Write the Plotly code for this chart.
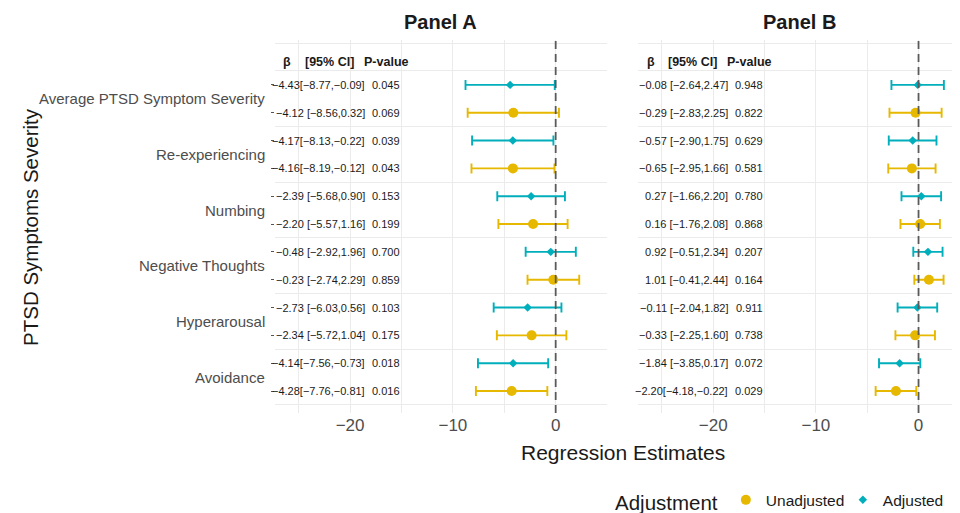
import plotly.graph_objects as go

# ---------------- data ----------------
categories = ["Average PTSD Symptom Severity", "Re-experiencing", "Numbing",
              "Negative Thoughts", "Hyperarousal", "Avoidance"]

# Panel A
A_adj_beta = [-4.43, -4.17, -2.39, -0.48, -2.73, -4.14]
A_adj_lo = [-8.77, -8.13, -5.68, -2.92, -6.03, -7.56]
A_adj_hi = [-0.09, -0.22, 0.90, 1.96, 0.56, -0.73]
A_adj_p = [0.045, 0.039, 0.153, 0.700, 0.103, 0.018]

A_unadj_beta = [-4.12, -4.16, -2.20, -0.23, -2.34, -4.28]
A_unadj_lo = [-8.56, -8.19, -5.57, -2.74, -5.72, -7.76]
A_unadj_hi = [0.32, -0.12, 1.16, 2.29, 1.04, -0.81]
A_unadj_p = [0.069, 0.043, 0.199, 0.859, 0.175, 0.016]

# Panel B
B_adj_beta = [-0.08, -0.57, 0.27, 0.92, -0.11, -1.84]
B_adj_lo = [-2.64, -2.90, -1.66, -0.51, -2.04, -3.85]
B_adj_hi = [2.47, 1.75, 2.20, 2.34, 1.82, 0.17]
B_adj_p = [0.948, 0.629, 0.780, 0.207, 0.911, 0.072]

B_unadj_beta = [-0.29, -0.65, 0.16, 1.01, -0.33, -2.20]
B_unadj_lo = [-2.83, -2.95, -1.76, -0.41, -2.25, -4.18]
B_unadj_hi = [2.25, 1.66, 2.08, 2.44, 1.60, -0.22]
B_unadj_p = [0.822, 0.581, 0.868, 0.164, 0.738, 0.029]

panel_titles = ["Panel A", "Panel B"]
x_ticks = [-20, -10, 0]
x_ticktext = ["\u221220", "\u221210", "0"]
x_minor = [-25, -15, -5, 5]
header_labels = ["\u03b2", "[95% CI]", "P-value"]

# ---------------- styling ----------------
FONT = "Liberation Sans, Arial, Helvetica, sans-serif"
COL = {"Unadjusted": "#E7B800", "Adjusted": "#00AFBB"}
SYM = {"Unadjusted": "circle", "Adjusted": "diamond"}
SIZE = {"Unadjusted": 10, "Adjusted": 6.5}
GRID = "#ebebeb"


def fmt(v):
    s = f"{abs(v):.2f}"
    return ("\u2212" + s) if v < 0 else s


def left_text(b, lo, hi):
    bs = fmt(b)
    ci = f"[{fmt(lo)},{fmt(hi)}]"
    s = bs + ci
    if len(s) < 18:
        s = bs + " " + ci
    while len(s) < 18:
        s = " " + s
    return s


panels = [
    {"Adjusted": (A_adj_beta, A_adj_lo, A_adj_hi, A_adj_p),
     "Unadjusted": (A_unadj_beta, A_unadj_lo, A_unadj_hi, A_unadj_p)},
    {"Adjusted": (B_adj_beta, B_adj_lo, B_adj_hi, B_adj_p),
     "Unadjusted": (B_unadj_beta, B_unadj_lo, B_unadj_hi, B_unadj_p)},
]

n = len(categories)
rows = {"Adjusted": [2 * i + 1 for i in range(n)],
        "Unadjusted": [2 * i + 2 for i in range(n)]}

fig = go.Figure()
annotations = []
axes = [("x", "y"), ("x2", "y2")]

for pi, pdata in enumerate(panels):
    xa, ya = axes[pi]
    for adj in ["Unadjusted", "Adjusted"]:
        b, lo, hi, p = pdata[adj]
        fig.add_trace(go.Scatter(
            x=b, y=rows[adj], mode="markers", name=adj, legendgroup=adj,
            showlegend=(pi == 0), xaxis=xa, yaxis=ya,
            marker=dict(color=COL[adj], symbol=SYM[adj], size=SIZE[adj],
                        line=dict(width=0)),
            error_x=dict(type="data", symmetric=False,
                         array=[h - v for h, v in zip(hi, b)],
                         arrayminus=[v - l for v, l in zip(b, lo)],
                         color=COL[adj], thickness=1.9, width=5),
        ))
        for i in range(n):
            annotations.append(dict(
                x=-18.4, y=rows[adj][i], xref=xa, yref=ya, xanchor="right",
                yanchor="middle", showarrow=False,
                text=left_text(b[i], lo[i], hi[i]),
                font=dict(family=FONT, size=11, color="#1a1a1a")))
            annotations.append(dict(
                x=-16.5, y=rows[adj][i], xref=xa, yref=ya, xanchor="center",
                yanchor="middle", showarrow=False, text=f"{p[i]:.3f}",
                font=dict(family=FONT, size=11, color="#1a1a1a")))
    # headers
    for hx, ht in zip([-26.1, -22.0, -16.5], header_labels):
        annotations.append(dict(
            x=hx, y=0.18, xref=xa, yref=ya, xanchor="center", yanchor="middle",
            showarrow=False, text=f"<b>{ht}</b>",
            font=dict(family=FONT, size=12.5, color="#1a1a1a")))
    # panel title
    annotations.append(dict(
        x=0.5, y=1.048, xref=f"{xa} domain", yref="paper", xanchor="center",
        yanchor="middle", showarrow=False, text=f"<b>{panel_titles[pi]}</b>",
        font=dict(family=FONT, size=20, color="#1a1a1a")))
    # zero line
    fig.add_shape(type="line", xref=xa, yref=f"{ya} domain", x0=0, x1=0,
                  y0=0, y1=1, line=dict(color="#5a5a5a", width=1.8,
                                        dash="8px,5px"), layer="above")

# category labels
for i, c in enumerate(categories):
    annotations.append(dict(
        x=-0.012, y=2 * i + 1.5, xref="paper", yref="y", xanchor="right",
        yanchor="middle", showarrow=False, text=c,
        font=dict(family=FONT, size=15, color="#4d4d4d")))

# axis titles
annotations.append(dict(
    x=0.508, y=-0.105, xref="paper", yref="paper", xanchor="center",
    yanchor="middle", showarrow=False, text="Regression Estimates",
    font=dict(family=FONT, size=21, color="#1a1a1a")))
annotations.append(dict(
    x=-0.357, y=0.5, xref="paper", yref="paper", xanchor="center",
    yanchor="middle", showarrow=False, text="PTSD Symptoms Severity",
    textangle=-90, font=dict(family=FONT, size=20.5, color="#1a1a1a")))

grid_rows = [-0.5] + [2 * i + 0.5 for i in range(n + 1)]
yrange = [12.79, -0.613]

xcommon = dict(tickvals=x_ticks, ticktext=x_ticktext, showgrid=True,
               gridcolor=GRID, gridwidth=1.2, zeroline=False, showline=False,
               ticks="", tickfont=dict(family=FONT, size=17, color="#4d4d4d"),
               minor=dict(tickvals=x_minor, showgrid=True, gridcolor=GRID,
                          gridwidth=1))

fig.update_layout(
    width=952, height=505,
    margin=dict(l=267, r=0, t=32, b=100, autoexpand=False),
    paper_bgcolor="white", plot_bgcolor="white",
    font=dict(family=FONT),
    xaxis=dict(domain=[0, 0.4842], range=[-27.3, 4.96], anchor="y", **xcommon),
    xaxis2=dict(domain=[0.5304, 1.0], range=[-27.3, 4.04], anchor="y2",
                **xcommon),
    yaxis=dict(domain=[0, 1], range=yrange, anchor="x", tickvals=grid_rows,
               showticklabels=False, showgrid=True, gridcolor=GRID,
               gridwidth=1.2, zeroline=False, showline=False, ticks="",
               minor=dict(tickvals=list(range(1, 2 * n + 1)), ticks="outside",
                          ticklen=3, tickcolor="#555", tickwidth=1,
                          showgrid=False)),
    yaxis2=dict(domain=[0, 1], range=yrange, anchor="x2", tickvals=grid_rows,
                showticklabels=False, showgrid=True, gridcolor=GRID,
                gridwidth=1.2, zeroline=False, showline=False, ticks=""),
    legend=dict(orientation="h", x=1.0, xanchor="right", y=-0.238,
                yanchor="middle", bgcolor="rgba(0,0,0,0)",
                entrywidth=72, entrywidthmode="pixels",
                title=dict(text="Adjustment",
                           font=dict(family=FONT, size=20.5, color="#1a1a1a")),
                font=dict(family=FONT, size=15.5, color="#1a1a1a")),
    annotations=annotations,
    showlegend=True,
)

fig.write_html("out.html")
